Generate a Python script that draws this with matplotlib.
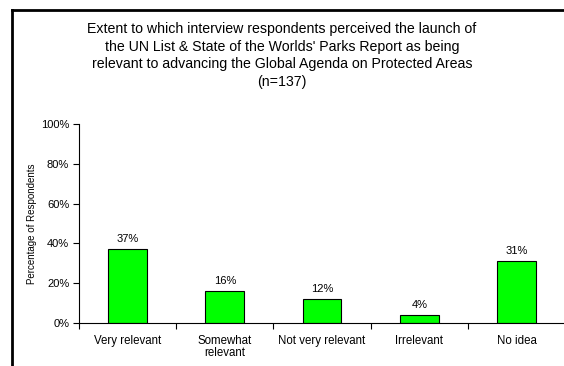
import matplotlib.pyplot as plt
from matplotlib.lines import Line2D
from matplotlib.ticker import PercentFormatter

categories = ["Very relevant", "Somewhat\nrelevant", "Not very relevant", "Irrelevant", "No idea"]
percentages = [37, 16, 12, 4, 31]
y_ticks = [0, 20, 40, 60, 80, 100]

title = ("Extent to which interview respondents perceived the launch of\n"
         "the UN List & State of the Worlds' Parks Report as being\n"
         "relevant to advancing the Global Agenda on Protected Areas\n"
         "(n=137)")

plt.rcParams['font.family'] = ['Liberation Sans', 'DejaVu Sans']

fig = plt.figure(figsize=(5.64, 3.66), dpi=100)
ax = fig.add_axes([0.140, 0.1175, 0.862, 0.5437])

x = [i + 0.5 for i in range(len(categories))]
ax.bar(x, percentages, width=0.4, color='#00ff00', edgecolor='black', linewidth=0.8)

for xi, v in zip(x, percentages):
    ax.text(xi, v + 2.5, f"{v}%", ha='center', va='bottom', fontsize=8)

ax.set_xlim(0, len(categories))
ax.set_ylim(0, 100)
ax.set_yticks(y_ticks)
ax.yaxis.set_major_formatter(PercentFormatter(decimals=0))
ax.set_xticks(range(len(categories) + 1))
ax.set_xticklabels([])
ax.set_xticks(x, minor=True)
ax.set_xticklabels(categories, minor=True, fontsize=8.3, linespacing=1.0)
ax.tick_params(axis='x', which='minor', length=0, pad=9)
ax.tick_params(axis='x', which='major', length=4, width=0.8, direction='out')
ax.tick_params(axis='y', length=4, width=0.8, labelsize=8, pad=3)
ax.set_ylabel("Percentage of Respondents", fontsize=7, labelpad=3)

for side in ['top', 'right']:
    ax.spines[side].set_visible(False)
for side in ['left', 'bottom']:
    ax.spines[side].set_linewidth(0.8)

fig.text(0.5, 1 - 22 / 366, title, ha='center', va='top', fontsize=10.2, linespacing=1.33)

# outer frame (left and top edges)
fig.add_artist(Line2D([12 / 564, 12 / 564], [0, 1 - 10 / 366], color='black', linewidth=2,
                      transform=fig.transFigure))
fig.add_artist(Line2D([12 / 564, 1], [1 - 10 / 366, 1 - 10 / 366], color='black', linewidth=2,
                      transform=fig.transFigure))

fig.savefig("out.png", dpi=100)
